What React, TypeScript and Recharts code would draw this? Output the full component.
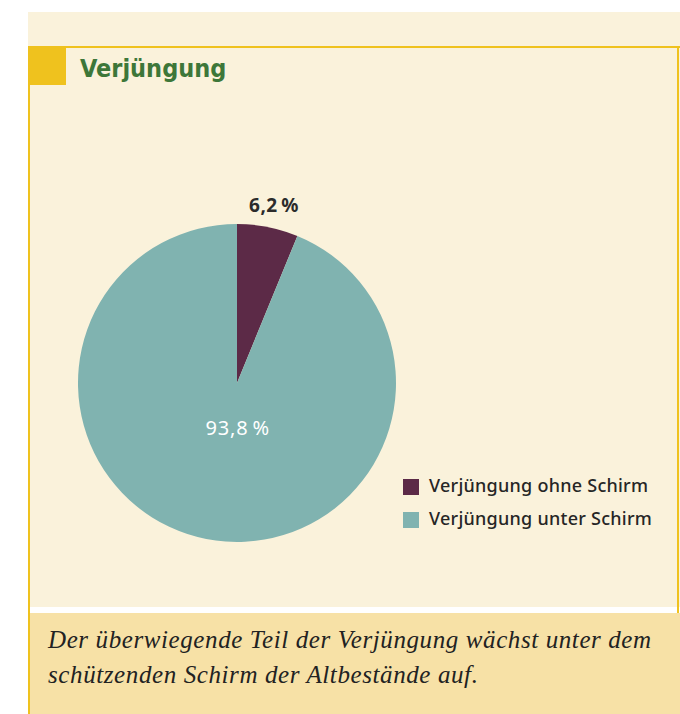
import { PieChart, Pie, Cell, Legend } from "recharts";

const categories = ["Verjüngung ohne Schirm", "Verjüngung unter Schirm"];
const shares = [6.2, 93.8];
const colors = ["#5c2a47", "#80b3b0"];

const data = categories.map((name, i) => ({ name, value: shares[i] }));

const fmt = (v: number) => `${v.toFixed(1).replace(".", ",")}\u2009%`;

const RADIAN = Math.PI / 180;

function renderLabel(props: any) {
  const { cx, cy, midAngle, outerRadius, index, value } = props;
  if (index === 0) {
    const r = outerRadius + 22;
    const x = cx + r * Math.cos(-midAngle * RADIAN) + 2;
    const y = cy + r * Math.sin(-midAngle * RADIAN);
    return (
      <text x={x} y={y} textAnchor="middle" dominantBaseline="central" fill="#2b2b2b" fontSize={19} fontWeight={700} letterSpacing={0.5} fontFamily="'Noto Sans', sans-serif">
        {fmt(value)}
      </text>
    );
  }
  const r = outerRadius * 0.3;
  const x = cx + r * Math.cos(-midAngle * RADIAN) + 10;
  const y = cy + r * Math.sin(-midAngle * RADIAN) - 2;
  return (
    <text x={x} y={y} textAnchor="middle" dominantBaseline="central" fill="#ffffff" fontSize={20} letterSpacing={0.8} fontFamily="'Noto Sans', sans-serif">
      {fmt(value)}
    </text>
  );
}

export default function App() {
  return (
    <div style={{ position: "fixed", left: 0, top: 0, width: 680, height: 714, background: "#ffffff", overflow: "hidden" }}>
      {/* cream panel */}
      <div style={{ position: "absolute", left: 28, top: 12, width: 652, height: 595, background: "#faf2db" }} />
      <div style={{ position: "absolute", left: 28, top: 46, width: 652, height: 2, background: "#efc21e" }} />
      <div style={{ position: "absolute", left: 28, top: 46, width: 2, height: 668, background: "#efc21e" }} />
      <div style={{ position: "absolute", left: 677, top: 46, width: 2, height: 668, background: "#efc21e" }} />
      <div style={{ position: "absolute", left: 28, top: 46, width: 38, height: 39, background: "#efc21e" }} />
      <div style={{ position: "absolute", left: 80, top: 54, fontFamily: "'DejaVu Sans Condensed', 'Noto Sans', sans-serif", fontWeight: 700, fontSize: 25, color: "#3d7739" }}>
        Verjüngung
      </div>

      <div style={{ position: "absolute", left: 0, top: 0 }}>
        <PieChart width={680} height={607} margin={{ top: 0, right: 0, bottom: 0, left: 0 }}>
          <Pie
            data={data}
            dataKey="value"
            nameKey="name"
            cx={237}
            cy={383}
            outerRadius={159}
            startAngle={90}
            endAngle={-270}
            stroke="none"
            label={renderLabel}
            labelLine={false}
            isAnimationActive={false}
          >
            {data.map((d, i) => (
              <Cell key={d.name} fill={colors[i]} />
            ))}
          </Pie>
          <Legend
            layout="vertical"
            verticalAlign="bottom"
            align="right"
            iconType="square"
            iconSize={16}
            wrapperStyle={{ left: 403, top: 469, right: "auto", bottom: "auto", width: 277, fontFamily: "'Noto Sans', sans-serif", fontSize: 18, fontWeight: 500 }}
            formatter={(value) => <span style={{ color: "#262626", marginLeft: 6, lineHeight: "33px", letterSpacing: 0.25 }}>{value}</span>}
          />
        </PieChart>
      </div>

      <div style={{ position: "absolute", left: 28, top: 613, width: 652, height: 101, background: "#f7e1a6" }} />
      <div style={{ position: "absolute", left: 28, top: 613, width: 2, height: 101, background: "#efc21e" }} />
      <div style={{ position: "absolute", left: 48, top: 622, width: 625, fontFamily: "'Liberation Serif', serif", fontStyle: "italic", fontSize: 25, letterSpacing: 0.6, lineHeight: "35px", color: "#222222" }}>
        Der überwiegende Teil der Verjüngung wächst unter dem schützenden Schirm der Altbestände auf.
      </div>
    </div>
  );
}
